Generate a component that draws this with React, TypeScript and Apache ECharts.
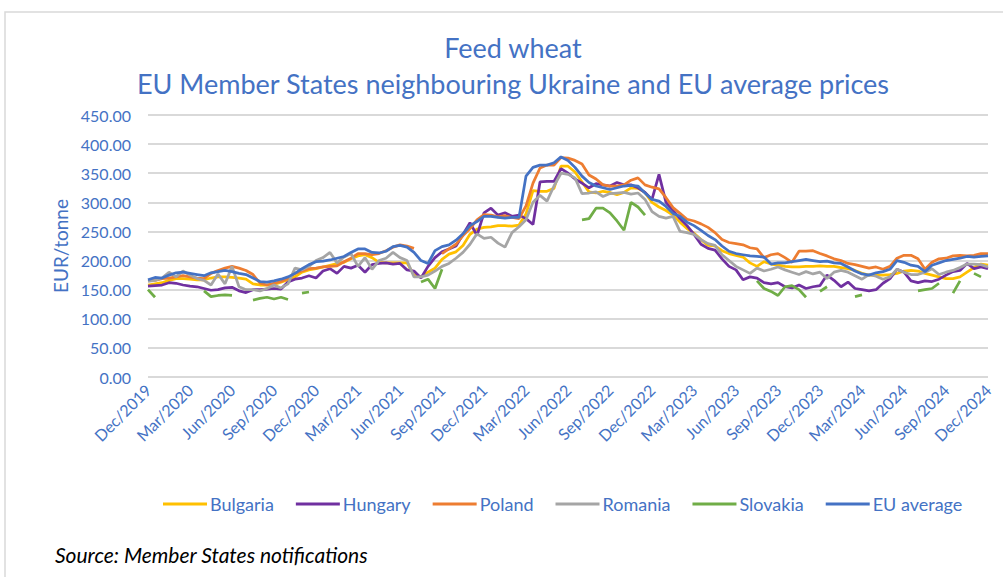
import React, { useEffect, useRef } from "react";
import * as echarts from "echarts";

// Half-month periods, Dec 2019 .. Dec 2024 (121 points)
const MONTH_NAMES = ["Jan", "Feb", "Mar", "Apr", "May", "Jun", "Jul", "Aug", "Sep", "Oct", "Nov", "Dec"];
const periods: string[] = Array.from({ length: 121 }, (_, i) => {
  const m = 11 + Math.floor(i / 2);
  const label = `${MONTH_NAMES[m % 12]}/${2019 + Math.floor(m / 12)}`;
  return i % 2 === 0 ? label : `${label} (2nd half)`;
});

const N = null;

const bulgaria: (number | null)[] = [
  158, 160, 162, 166, 169, 169, 168, 167, 167, 170,
  172, 172, 171, 170, 168, 160, 158, 158, 159, 163,
  167, 172, 180, 184, 186, 189, 192, 195, 197, 203,
  208, 210, 205, 197, 196, 196, 196, 196, 175, 172,
  180, 187, 202, 211, 215, 226, 245, 254, 257, 258,
  260, 260, 259, 261, 280, 320, 319, 319, 324, 362,
  362, 352, 335, 318, 316, 319, 317, 313, 317, 325,
  324, 317, 300, 292, 286, 278, 266, 255, 247, 236,
  226, 225, 217, 212, 209, 206, 196, 190, 198, 194,
  192, 190, 189, 189, 190, 190, 191, 190, 190, 188,
  186, 183, 178, 175, 175, 175, 176, 178, 182, 183,
  182, 178, 175, 172, 169, 169, 172, 180, 188, 194, 192,
];

const hungary: (number | null)[] = [
  156, 157, 158, 162, 161, 158, 156, 155, 152, 149,
  150, 153, 154, 148, 145, 150, 150, 151, 152, 151,
  163, 168, 170, 174, 170, 182, 186, 178, 190, 187,
  192, 180, 193, 195, 196, 194, 195, 184, 182, 170,
  190, 205, 215, 220, 225, 245, 265, 243, 282, 290,
  278, 282, 276, 278, 272, 262, 335, 336, 336, 358,
  350, 340, 333, 325, 332, 330, 328, 334, 330, 330,
  325, 317, 305, 348, 300, 286, 272, 260, 245, 228,
  221, 218, 203, 190, 184, 167, 172, 170, 162, 160,
  162, 155, 153, 158, 152, 155, 157, 175, 166, 155,
  163, 152, 150, 148, 150, 161, 169, 185, 180, 165,
  162, 165, 164, 168, 175, 181, 183, 195, 186, 189, 186,
];

const poland: (number | null)[] = [
  166, 166, 169, 170, 172, 174, 172, 170, 169, 178,
  183, 187, 190, 187, 183, 176, 161, 158, 161, 164,
  169, 178, 182, 186, 187, 189, 190, 191, 198, 204,
  212, 212, 210, 212, 217, 223, 227, 225, 221, N,
  N, N, 212, 220, 228, 243, 255, 270, 279, 278,
  275, 277, 274, 272, 294, 333, 359, 364, 364, 377,
  376, 372, 366, 347, 340, 330, 328, 328, 330, 338,
  342, 330, 326, 323, 308, 291, 281, 271, 268, 263,
  257, 248, 236, 231, 229, 227, 222, 220, 205, 210,
  212, 205, 197, 216, 216, 217, 212, 208, 203, 200,
  195, 193, 190, 187, 189, 185, 190, 204, 209, 209,
  203, 185, 197, 203, 204, 208, 209, 208, 209, 212, 212,
];

const romania: (number | null)[] = [
  164, 166, 170, 180, 172, 182, 175, 169, 166, 158,
  177, 160, 190, 155, 150, 150, 148, 152, 158, 153,
  160, 187, 184, 190, 200, 205, 214, 196, 206, 212,
  190, 205, 185, 200, 204, 214, 205, 200, 172, 172,
  175, 182, 190, 195, 204, 214, 228, 246, 238, 240,
  230, 223, 248, 258, 270, 300, 312, 302, 328, 350,
  348, 342, 315, 316, 318, 310, 315, 316, 317, 314,
  316, 305, 284, 276, 273, 276, 250, 248, 245, 236,
  229, 226, 210, 200, 190, 184, 178, 187, 182, 185,
  189, 184, 180, 176, 181, 177, 180, 169, 180, 183,
  180, 174, 168, 176, 173, 168, 172, 185, 180, 176,
  176, 180, 186, 176, 180, 183, 188, 194, 194, 193, 189,
];

const slovakia: (number | null)[] = [
  150, 137, N, N, N, N, N, N, 148, 138,
  140, 141, 140, N, N, 132, 135, 137, 134, 137,
  133, N, 144, 146, N, N, N, N, N, N,
  N, N, N, N, N, N, N, N, N, 163,
  168, 152, 185, N, N, N, N, N, N, N,
  N, N, N, N, N, N, N, N, N, N,
  N, N, 270, 272, 290, 290, 282, 268, 252, 300,
  292, 278, N, N, N, N, N, N, N, N,
  N, N, N, N, N, N, N, 165, 152, 147,
  140, 155, 157, 150, 137, N, 147, 155, N, N,
  N, 138, 141, N, N, N, N, N, N, N,
  148, 150, 152, 161, N, 144, 165, N, 178, 172, N,
];

const euAverage: (number | null)[] = [
  167, 171, 170, 175, 179, 180, 178, 176, 174, 179,
  181, 183, 181, 178, 176, 170, 164, 163, 165, 168,
  172, 178, 186, 193, 198, 199, 201, 204, 207, 214,
  220, 220, 214, 213, 216, 224, 226, 223, 214, 200,
  195, 217, 224, 227, 235, 246, 260, 267, 276, 276,
  274, 273, 274, 274, 345, 360, 364, 364, 368, 378,
  372, 360, 345, 334, 328, 325, 322, 325, 328, 329,
  328, 316, 305, 302, 293, 281, 276, 266, 260, 252,
  243, 236, 225, 216, 212, 210, 208, 207, 206, 194,
  196, 196, 198, 200, 202, 200, 198, 199, 196, 195,
  189, 182, 177, 175, 179, 181, 185, 200, 197, 192,
  190, 181, 192, 196, 200, 202, 204, 207, 206, 207, 208,
];

const seriesNames = ["Bulgaria", "Hungary", "Poland", "Romania", "Slovakia", "EU average"];
const seriesData = [bulgaria, hungary, poland, romania, slovakia, euAverage];
const seriesColors = ["#FFC000", "#7030A0", "#ED7D31", "#A5A5A5", "#70AD47", "#4472C4"];

const FONT = "Lato, 'Noto Sans', sans-serif";
const BLUE = "#4472C4";

export default function App() {
  const ref = useRef<HTMLDivElement>(null);
  useEffect(() => {
    if (!ref.current) return;
    const chart = echarts.init(ref.current, undefined, { renderer: "svg" });
    chart.setOption({
      animation: false,
      backgroundColor: "#ffffff",
      textStyle: { fontFamily: FONT },
      title: {
        text: "Feed wheat\nEU Member States neighbouring Ukraine and EU average prices",
        left: 508,
        textAlign: "center",
        top: 24,
        textStyle: { color: BLUE, fontSize: 27, fontWeight: "normal", lineHeight: 36, fontFamily: FONT },
      },
      grid: { left: 148, right: 15, top: 115, bottom: 200, containLabel: false },
      legend: {
        left: 158,
        top: 490,
        icon: "rect",
        itemWidth: 44,
        itemHeight: 3,
        itemGap: 22,
        textStyle: { color: BLUE, fontSize: 18, fontFamily: FONT, padding: [0, 0, 0, -2] },
        data: seriesNames,
      },
      xAxis: {
        type: "category",
        data: periods,
        boundaryGap: false,
        axisLine: { show: false },
        axisTick: { show: false },
        axisLabel: {
          interval: 5,
          rotate: 45,
          color: BLUE,
          fontSize: 16,
          margin: 10,
          fontFamily: FONT,
        },
        splitLine: { show: false },
      },
      yAxis: {
        type: "value",
        min: 0,
        max: 450,
        interval: 50,
        name: "EUR/tonne",
        nameLocation: "middle",
        nameGap: 77,
        nameTextStyle: { color: BLUE, fontSize: 19, fontFamily: FONT },
        axisLine: { show: false },
        axisTick: { show: false },
        axisLabel: {
          color: BLUE,
          fontSize: 16,
          margin: 17,
          fontFamily: FONT,
          formatter: (v: number) => v.toFixed(2),
        },
        splitLine: { lineStyle: { color: "#D9D9D9", width: 2 } },
      },
      series: seriesNames.map((name, i) => ({
        name,
        type: "line",
        data: seriesData[i],
        connectNulls: false,
        symbol: "none",
        showSymbol: false,
        lineStyle: { color: seriesColors[i], width: 2.75 },
        itemStyle: { color: seriesColors[i] },
        z: 2 + i,
      })),
      graphic: [
        {
          type: "rect",
          shape: { x: 5, y: 12, width: 1020, height: 620 },
          style: { fill: "none", stroke: "#D9D9D9", lineWidth: 1.5 },
          silent: true,
          z: -1,
        },
        {
          type: "text",
          left: 55,
          top: 544,
          style: {
            text: "Source: Member States notifications",
            fill: "#000000",
            font: `italic 21px ${FONT}`,
          },
        },
      ],
    });
    return () => chart.dispose();
  }, []);
  return (
    <div
      ref={ref}
      style={{ position: "fixed", left: 0, top: 0, width: 1003, height: 577, background: "#fff" }}
    />
  );
}
